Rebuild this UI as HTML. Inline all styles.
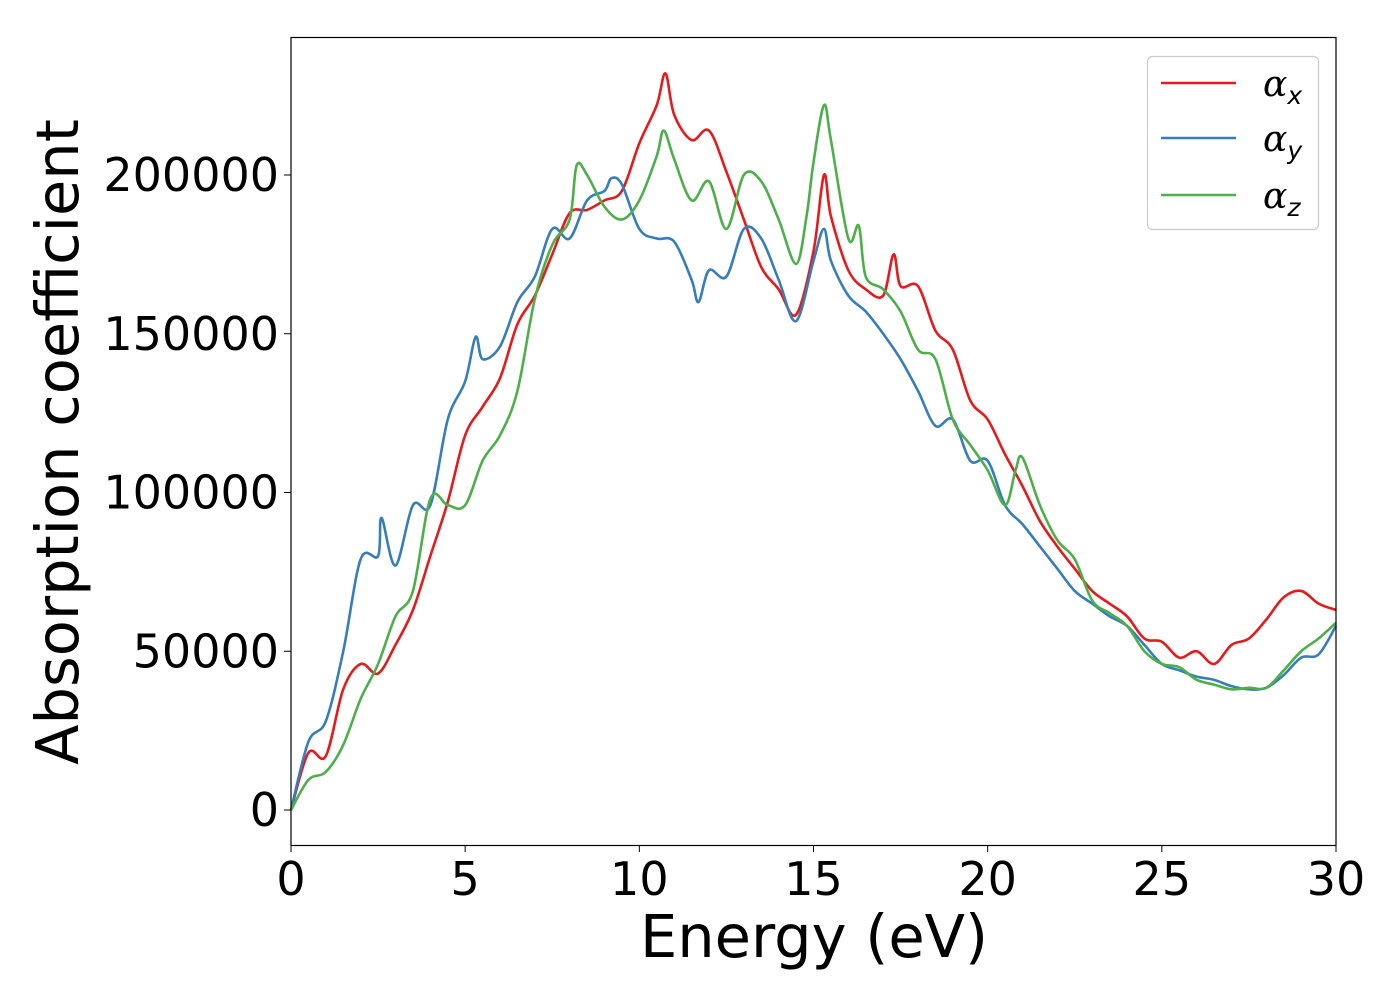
<!DOCTYPE html>
<html><head><meta charset="utf-8"><style>
body{margin:0;background:#fff}
svg{display:block;font-family:"DejaVu Sans","Liberation Sans",sans-serif}
</style></head><body>
<svg id="chart" width="1400" height="1000">
<rect x="0" y="0" width="1400" height="1000" fill="#fff"/>
<g id="series"></g>
<rect x="291" y="37.5" width="1045" height="808" fill="none" stroke="#000" stroke-width="1.2"/>
<g id="ticks"></g>
<text x="814" y="957" font-size="59" text-anchor="middle">Energy (eV)</text>
<text transform="translate(78,442) rotate(-90)" font-size="59" text-anchor="middle">Absorption coefficient</text>
<g>
<rect x="1147.5" y="56.5" width="171" height="173" rx="5" fill="#fff" stroke="#ccc" stroke-width="1.2"/>
<line x1="1161" y1="83" x2="1236" y2="83" stroke="#e41a1c" stroke-width="2.6"/>
<text x="1263" y="96" font-size="36" font-style="italic" font-family="DejaVu Serif, serif">α<tspan font-size="25" dy="8" font-family="DejaVu Sans, sans-serif">x</tspan></text>
<line x1="1161" y1="138" x2="1236" y2="138" stroke="#377eb8" stroke-width="2.6"/>
<text x="1263" y="151" font-size="36" font-style="italic" font-family="DejaVu Serif, serif">α<tspan font-size="25" dy="8" font-family="DejaVu Sans, sans-serif">y</tspan></text>
<line x1="1161" y1="195" x2="1236" y2="195" stroke="#4daf4a" stroke-width="2.6"/>
<text x="1263" y="208" font-size="36" font-style="italic" font-family="DejaVu Serif, serif">α<tspan font-size="25" dy="8" font-family="DejaVu Sans, sans-serif">z</tspan></text>
</g>
</svg>
<script>
const xTicks=[0,5,10,15,20,25,30];
const yTicks=[0,50000,100000,150000,200000];
const xE=[0,0.5,1,1.5,2,2.5,3,3.5,4,4.5,5,5.5,6,6.5,7,7.5,8,8.5,9,9.5,10,10.5,10.75,11,11.5,12,12.5,13,13.5,14,14.5,15,15.3,15.5,16,16.5,17,17.3,17.5,18,18.5,19,19.5,20,20.5,21,21.5,22,22.5,23,23.5,24,24.5,25,25.5,26,26.5,27,27.5,28,28.5,29,29.5,30];
const xVals=[0,18000,17000,38000,46000,43000,52000,63000,80000,97000,118000,127000,136000,153000,162000,175000,188000,189000,192000,195000,210000,222000,232000,219000,211000,214000,201000,186000,171000,164000,156000,176000,200000,187000,170000,164000,162000,175000,165000,165000,151000,145000,129000,123000,112000,102000,91000,83000,76000,69000,65000,61000,54000,53000,48000,50000,46000,52000,54000,60000,67000,69000,65000,63000];
const yE=[0,0.5,1,1.5,2,2.5,2.6,3,3.5,4,4.5,5,5.3,5.5,6,6.5,7,7.5,8,8.5,9,9.2,9.5,10,10.5,11,11.5,11.7,12,12.5,13,13.5,14,14.5,15,15.3,15.5,16,16.5,17,17.5,18,18.5,19,19.5,20,20.5,21,21.5,22,22.5,23,23.5,24,24.5,25,25.5,26,26.5,27,27.5,28,28.5,29,29.5,30];
const yVals=[0,21500,28000,50000,79000,80000,92000,77000,96000,96000,123000,135000,149000,142000,146000,160000,168000,183000,180000,192000,195000,199000,197000,183000,180000,179000,167000,160000,170000,168000,183000,180000,167000,154000,173000,183000,173000,162000,157000,150000,142000,132000,121000,123000,110000,110000,96000,90000,83000,76000,69000,65000,61000,58000,52000,46000,44000,42000,41000,39000,38000,38500,42500,48000,49000,58000];
const zE=[0,0.5,1,1.5,2,2.5,3,3.5,4,4.5,5,5.5,6,6.5,7,7.5,8,8.2,8.5,9,9.5,10,10.5,10.7,11,11.5,12,12.5,13,13.5,14,14.5,14.8,15,15.3,15.5,16,16.3,16.5,17,17.5,18,18.5,19,19.5,20,20.5,20.8,21,21.5,22,22.5,23,23.5,24,24.5,25,25.5,26,26.5,27,27.5,28,28.5,29,29.5,30];
const zVals=[0,9500,12000,20500,35000,46000,61000,69000,98000,96000,96000,110000,118000,132000,161000,178000,186000,203000,200000,190000,186000,192000,206000,214000,205000,192000,198000,183000,200000,198000,186000,172000,187000,204000,222000,211000,180000,184000,168000,164000,157000,145000,142000,123000,115000,107000,96000,107000,111000,96000,85000,79000,66000,62000,58000,50000,46000,45000,41000,39500,38000,38500,38500,44000,50000,54000,59000];
const X=e=>291+e*(1045/30);
const Y=v=>810-v*(635/200000);
const NS='http://www.w3.org/2000/svg';
const tg=document.getElementById('ticks');
xTicks.forEach(t=>{
 const l=document.createElementNS(NS,'line');
 l.setAttribute('x1',X(t));l.setAttribute('x2',X(t));l.setAttribute('y1',845.5);l.setAttribute('y2',852);l.setAttribute('stroke','#000');
 
 
 tg.appendChild(l);
 const tx=document.createElementNS(NS,'text');
 tx.setAttribute('x',X(t));tx.setAttribute('y',895);tx.setAttribute('font-size','46');tx.setAttribute('text-anchor','middle');
 tx.textContent=t;
 
 
 tg.appendChild(tx);
});
yTicks.forEach(t=>{
 const l=document.createElementNS(NS,'line');
 l.setAttribute('x1',284);l.setAttribute('x2',291);l.setAttribute('y1',Y(t));l.setAttribute('y2',Y(t));l.setAttribute('stroke','#000');
 
 
 tg.appendChild(l);
 const tx=document.createElementNS(NS,'text');
 tx.setAttribute('x',279);tx.setAttribute('y',Y(t)+16);tx.setAttribute('font-size','46');tx.setAttribute('text-anchor','end');
 tx.textContent=t;
 
 
 tg.appendChild(tx);
});
function pathFor(es,vs){
 const p=es.map((e,i)=>[X(e),Y(vs[i])]);
 let d='M'+p[0][0]+','+p[0][1];
 for(let i=0;i<p.length-1;i++){
  const p0=p[Math.max(0,i-1)],p1=p[i],p2=p[i+1],p3=p[Math.min(p.length-1,i+2)];
  const c1=[p1[0]+(p2[0]-p0[0])/6,p1[1]+(p2[1]-p0[1])/6];
  const c2=[p2[0]-(p3[0]-p1[0])/6,p2[1]-(p3[1]-p1[1])/6];
  d+=' C'+c1[0]+','+c1[1]+' '+c2[0]+','+c2[1]+' '+p2[0]+','+p2[1];
 }
 return d;
}
const sg=document.getElementById('series');
[[xE,xVals,'#e41a1c','series-alpha-x'],[yE,yVals,'#377eb8','series-alpha-y'],[zE,zVals,'#4daf4a','series-alpha-z']].forEach(s=>{
 const pa=document.createElementNS(NS,'path');
 pa.setAttribute('d',pathFor(s[0],s[1]));pa.setAttribute('fill','none');pa.setAttribute('stroke',s[2]);pa.setAttribute('stroke-width','2.6');pa.setAttribute('stroke-linejoin','round');
 
 
 sg.appendChild(pa);
});
</script>
</body></html>
